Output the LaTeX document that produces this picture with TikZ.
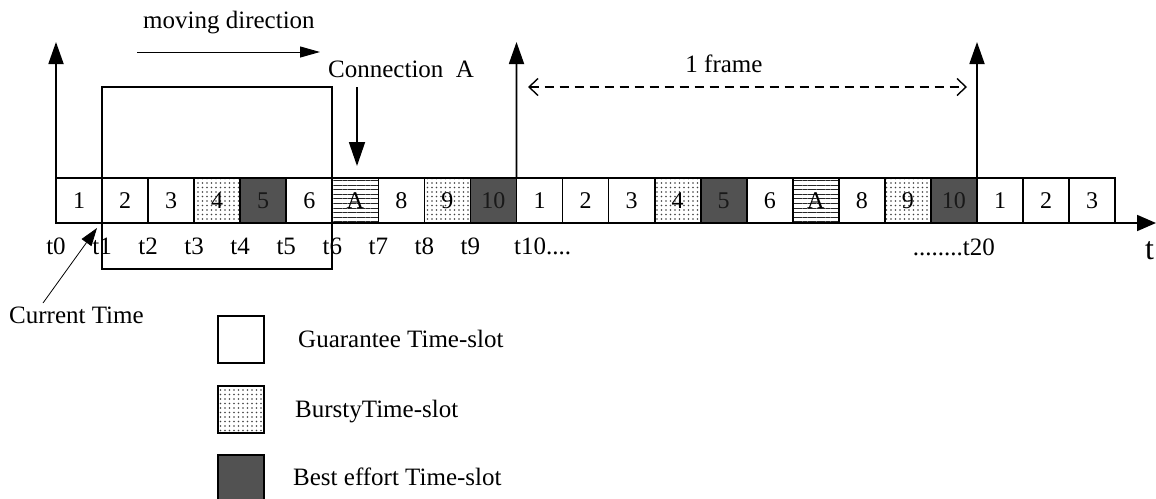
\documentclass[tikz,border=0pt]{standalone}
\usepackage{fontspec}
\setmainfont{Liberation Serif}
\usetikzlibrary{arrows.meta,patterns,patterns.meta}
\begin{document}
\begin{tikzpicture}[x=1pt,y=-1pt,
  slotbox/.style={draw, line width=1.7pt, minimum width=46.05pt, minimum height=45pt,
    inner sep=0pt, outer sep=0pt, font=\fontsize{24}{28}\selectfont, anchor=north west},
  wslot/.style={slotbox, fill=white},
  pslot/.style={slotbox, pattern={Dots[distance=4.5pt,radius=0.9pt]}, pattern color=black!75},
  dslot/.style={slotbox, fill=black!68, text=black!90},
  hslot/.style={slotbox, pattern={Lines[angle=0,distance=4.6pt,line width=1pt]}, pattern color=black!85},
  lbl/.style={font=\fontsize{25}{30}\selectfont, inner sep=0pt, anchor=base},
  bigarrow/.style={line width=1.8pt, -{Triangle[length=22pt,width=15pt]}},
]
\useasboundingbox (0,0) rectangle (1156,498);

% bracket (sliding window)
\draw[line width=1.8pt] (102.05,87) rectangle (332.3,269);

% slots
\foreach \lab/\sty [count=\i from 0] in {1/wslot,2/wslot,3/wslot,4/pslot,5/dslot,6/wslot,A/hslot,8/wslot,9/pslot,10/dslot,
  1/wslot,2/wslot,3/wslot,4/pslot,5/dslot,6/wslot,A/hslot,8/wslot,9/pslot,10/dslot,1/wslot,2/wslot,3/wslot}
  \node[\sty] (s\i) at ({56+46.05*\i},178) {\lab};

% time axis
\coordinate (axisend) at (1156,223);
\draw[line width=1.8pt, -{Triangle[length=19pt,width=16pt]}] (s0.south west) -- (axisend);
\node[lbl, anchor=base west, font=\fontsize{32}{36}\selectfont] (tax) at (1145,259) {t};

% frame arrows
\coordinate (up0) at (56,42);
\coordinate (up10) at (516.5,42);
\coordinate (up20) at (977,42);
\draw[bigarrow] (s0.north west) -- (up0);
\draw[bigarrow] (s10.north west) -- (up10);
\draw[bigarrow] (s20.north west) -- (up20);

% time labels
\foreach \k in {0,...,9}
  \node[lbl] (t\k) at ({56+46.05*\k},254) {t\k};
\node[lbl, anchor=base west] (t10) at (514,254) {t10....};
\node[lbl, anchor=base east] (t20) at (995,255) {........t20};

% moving direction
\node[lbl, anchor=base west] (md) at (143,28) {moving direction};
\coordinate (mda) at (137,52);
\coordinate (mdb) at (320,52);
\draw[line width=1pt, -{Triangle[length=20pt,width=11pt]}] (mda) -- (mdb);

% connection A
\node[lbl, anchor=base west] (ca) at (328,77) {Connection\ \ A};
\coordinate (caa) at (357,87);
\coordinate (cab) at (357,166);
\draw[line width=1.8pt, -{Triangle[length=24pt,width=16pt]}] (caa) -- (cab);

% 1 frame
\node[lbl] (fr) at (724,72) {1 frame};
\coordinate (fra) at (528,87);
\coordinate (frb) at (967,87);
\draw[line width=1.4pt, dash pattern=on 9pt off 6pt,
  {Straight Barb[length=9pt,width=17pt]}-{Straight Barb[length=9pt,width=17pt]}] (fra) -- (frb);

% current time
\node[lbl, anchor=base west] (ct) at (9,323) {Current Time};
\coordinate (cta) at (43,303);
\coordinate (ctb) at (97,228);
\draw[line width=0.8pt, -{Triangle[length=18pt,width=12pt]}] (cta) -- (ctb);

% legend
\node[draw, line width=1.7pt, minimum width=46pt, minimum height=47pt, inner sep=0pt, anchor=north west] (lg1) at (217,315) {};
\node[draw, line width=1.7pt, minimum width=46pt, minimum height=47pt, inner sep=0pt, anchor=north west,
  pattern={Dots[distance=4.5pt,radius=0.9pt]}, pattern color=black!75] (lg2) at (217,385) {};
\node[draw, line width=1.7pt, minimum width=46pt, minimum height=47pt, inner sep=0pt, anchor=north west,
  fill=black!68] (lg3) at (217,454) {};
\node[lbl, anchor=base west] (lt1) at (298,347) {Guarantee Time-slot};
\node[lbl, anchor=base west] (lt2) at (295,417) {BurstyTime-slot};
\node[lbl, anchor=base west] (lt3) at (293,485) {Best effort Time-slot};
\end{tikzpicture}
\end{document}
